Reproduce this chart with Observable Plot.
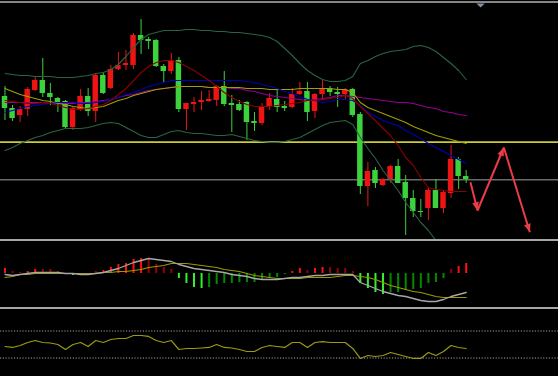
<!DOCTYPE html>
<html><head><meta charset="utf-8">
<script src="https://cdn.jsdelivr.net/npm/d3@7"></script>
<script src="https://cdn.jsdelivr.net/npm/@observablehq/plot@0.6"></script>
<style>
html,body{margin:0;padding:0;background:#000;}
#chart{position:relative;width:558px;height:376px;background:#000;overflow:hidden;}
.panel{position:absolute;left:0;}
.sep{position:absolute;left:0;width:558px;}
</style></head><body>
<div id="chart"></div>
<script>
// ---- candle data (price units, higher = higher price) ----
const open  = [144,132,125,131,150,160,147,142,139,113,131,144,129,165,152,171,175,175,205,201,200,174,169,180,131,136,138,139,140,154,137,136,138,119,117,134,141,134,133,146,149,129,146,152,148,146,151,126,54,70,55,61,74,58,42,29,32,50,32,47,81,64];
const high  = [154,135,134,153,163,182,157,143,140,133,151,152,167,168,175,188,190,207,221,203,201,176,187,183,137,143,149,150,155,169,145,140,139,128,137,147,151,139,152,158,158,147,160,154,153,152,152,128,78,73,62,75,81,65,50,41,53,61,50,95,83,70];
const low   = [120,119,118,124,149,143,135,128,112,110,129,124,118,146,151,170,170,171,186,191,173,158,166,128,110,128,130,138,134,134,108,129,100,109,115,130,128,129,132,145,119,122,141,144,133,140,123,46,34,52,54,57,57,5,23,23,20,32,27,42,51,57];
const close = [132,122,131,151,160,147,143,138,113,132,144,129,165,147,171,175,177,205,200,199,174,169,180,131,137,138,140,141,154,136,135,130,118,117,134,142,133,132,146,149,128,146,152,148,146,151,125,54,69,57,61,74,57,42,29,28,50,32,48,81,64,61];

// ---- main-chart indicators ----
const bbUpper = [167,166,165,165,164,164,164,163,163,163,164,165,167,168,171,176,184,193,201,206,208,210,210,210,211,211,210,210,209,209,208,208,207,206,205,203,199,192,185,177,170,165,161,159,159,160,164,177,180,184,187,189,190,191,194,195,193,189,183,177,170,161];
const bbLower = [90,93,97,100,103,105,108,110,112,112,112,113,115,117,118,117,113,109,105,103,103,106,109,110,108,107,107,106,105,105,106,104,102,100,99,98,98,99,101,103,107,111,115,118,119,120,116,103,92,82,70,60,50,38,28,18,10,0,-5,-10,-15,-18];
const maRed   = [140,139,138,137,137,138,137,135,133,131,131,132,134,136,140,146,152,160,168,174,178,180,180,178,174,170,165,160,154,148,143,139,136,134,134,134,135,136,137,138,140,140,141,142,143,145,142,134,127,120,112,105,95,83,75,63,53,51,50,49,49,49];
const maBlue  = [128,130,132,134,135,136,137,138,138,138,137,137,138,139,141,143,146,148,151,154,156,158,160,160,160,160,160,160,160,160,160,160,159,158,156,154,152,149,147,144,141,140,138,139,141,141,140,135,128,124,120,117,115,110,106,102,97,93,89,85,81,77];
const maOlive = [152,149,146,144,142,140,139,137,136,134,133,132,133,134,137,140,142,145,147,149,151,152,153,154,154,154,154,153,153,153,153,153,152,152,152,151,151,151,151,152,152,152,152,152,151,151,148,138,133,130,127,124,121,118,114,111,108,105,103,101,99,97];
const maPurple= [138,138,138,138,138,138,137,137,137,137,138,138,139,140,141,143,145,146,148,150,151,152,153,154,154,154,154,153,153,153,152,152,150,149,147,145,144,143,142,141,140,141,142,143,145,145,144,143,142,141,140,139,138,138,137,135,133,132,129,128,126,125];
const levelYellow = [98.3];
const levelGray = [60.8];
// forecast zig-zag pivots (bar index, price)
const zigBar   = [61.57, 62.5, 65.98, 69.42];
const zigPrice = [58.3, 30.0, 93.0, 8.3];
const shiftMarker = [{i: 62.9, v: 235}];

// ---- MACD panel ----
const macdHist   = [5,2,1,2,4,4,4,2,-1,-2,-1,-2,2,3,6,9,10,14,15,15,9,6,4,-5,-10,-14,-15,-14,-11,-10,-10,-9,-9,-9,-6,-5,-4,-1,2,5,3,5,6,6,5,5,2,-10,-15,-19,-21,-19,-19,-17,-16,-15,-10,-9,-5,4,7,10];
const macdLine   = [-1,-2,-1,0,1,1,1,1,0,0,-1,-1,0,1,3,5,8,11,13,15,14,13,12,9,7,5,4,3,2,1,-1,-2,-3,-5,-6,-6,-6,-5,-4,-4,-3,-2,-2,-1,-1,-1,-1,-9,-12,-15,-18,-20,-22,-23,-25,-27,-28,-28,-26,-23,-21,-19];
const signalLine = [-4,-3,-1,-1,0,0,0,0,0,0,0,0,0,1,1,2,2,3,4,6,7,8,10,10,10,9,8,7,6,4,3,2,0,-2,-3,-4,-5,-5,-5,-5,-4,-4,-4,-4,-3,-2,-2,-3,-4,-6,-9,-12,-14,-16,-18,-19,-21,-23,-24,-24,-24,-24];

// ---- oscillator panel ----
const rsi = [47.0,45.6,48.5,53.0,55.9,53.0,52.2,50.0,42.6,50.0,53.0,47.0,55.9,53.0,57.4,58.9,58.9,63.3,63.3,61.9,55.9,53.0,55.9,42.6,44.1,44.1,44.8,45.6,50.0,45.6,44.8,42.6,39.6,39.6,45.6,48.5,47.0,45.6,53.0,53.0,45.6,53.0,54.4,53.0,53.0,53.0,44.1,29.3,33.7,32.2,33.7,38.1,35.2,32.2,29.3,29.3,38.1,33.7,39.6,48.5,45.6,44.1];
const rsiLevels = [70, 30];

// ---- build ----
const GREEN = "#3cd23c", RED = "#ee1414", ARROW = "#ec3c48";
const XD = [-0.595, 73.21];
const bars = open.map((o, i) => ({i, o, h: high[i], l: low[i], c: close[i], col: close[i] > o ? RED : GREEN}));
const series = arr => arr.map((v, i) => ({i, v}));
const sx = Plot.scale({x: {domain: XD, range: [0, 558]}});
const sy = Plot.scale({y: {domain: [0, 240], range: [240, 0]}});
const segs = zigBar.slice(1).map((b, k) => {
  const dx = sx.apply(b) - sx.apply(zigBar[k]);
  const dy = sy.apply(zigPrice[k + 1]) - sy.apply(zigPrice[k]);
  return {x1: zigBar[k], y1: zigPrice[k], x2: b, y2: zigPrice[k + 1], angle: Math.atan2(dx, -dy) * 180 / Math.PI};
});
// arrowhead symbol: tip at origin, pointing up
const headSym = {draw(ctx, size){ const r = Math.sqrt(size / Math.PI); ctx.moveTo(0, 0); ctx.lineTo(-r*0.42, r*1.05); ctx.lineTo(r*0.42, r*1.05); ctx.closePath(); }};
const flatTri = {draw(ctx, size){ const r = Math.sqrt(size / Math.PI); ctx.moveTo(-r*1.4, -r*0.7); ctx.lineTo(r*1.4, -r*0.7); ctx.lineTo(0, r*0.7); ctx.closePath(); }};

const chart = document.getElementById("chart");
function place(node, top){ node.classList.add("panel"); node.style.top = top + "px"; chart.appendChild(node); }
function sep(top, h, color){ const d = document.createElement("div"); d.className = "sep"; d.style.top = top + "px"; d.style.height = h + "px"; d.style.background = color; chart.appendChild(d); }

const main = Plot.plot({
  width: 558, height: 240, margin: 0,
  style: {background: "#000", overflow: "hidden"},
  x: {domain: XD, axis: null},
  y: {domain: [0, 240], axis: null},
  color: {type: "identity"},
  marks: [
    Plot.ruleY(levelYellow, {stroke: "#cccc33", strokeWidth: 1.7}),
    Plot.ruleY(levelGray, {stroke: "#6a6a6a", strokeWidth: 1.6}),
    Plot.ruleX(bars, {x: "i", y1: "l", y2: "h", stroke: "col", strokeWidth: 1, clip: true}),
    Plot.rect(bars, {x1: d => d.i - 0.36, x2: d => d.i + 0.36, y1: "o", y2: "c", fill: "col", clip: true}),
    Plot.line(series(bbUpper), {x: "i", y: "v", stroke: "#2a6442", strokeWidth: 1.1, clip: true}),
    Plot.line(series(bbLower), {x: "i", y: "v", stroke: "#2a6442", strokeWidth: 1.1, clip: true}),
    Plot.line(series(maPurple), {x: "i", y: "v", stroke: "#950095", strokeWidth: 1.1}),
    Plot.line(series(maOlive), {x: "i", y: "v", stroke: "#a0a000", strokeWidth: 1.1}),
    Plot.line(series(maBlue), {x: "i", y: "v", stroke: "#0000b4", strokeWidth: 1.1}),
    Plot.line(series(maRed), {x: "i", y: "v", stroke: "#8c0000", strokeWidth: 1.1}),
    Plot.link(segs, {x1: "x1", y1: "y1", x2: "x2", y2: "y2", stroke: ARROW, strokeWidth: 2}),
    Plot.dot(segs, {x: "x2", y: "y2", rotate: "angle", symbol: headSym, r: 8, fill: ARROW, stroke: null}),
    Plot.dot(shiftMarker, {x: "i", y: "v", symbol: flatTri, r: 3, fill: "#7a92aa", stroke: null})
  ]
});
place(main, 0);

const macd = Plot.plot({
  width: 558, height: 66, margin: 0,
  style: {background: "#000", overflow: "hidden"},
  x: {domain: XD, axis: null},
  y: {domain: [-34, 32], axis: null},
  color: {type: "identity"},
  marks: [
    Plot.ruleX(series(macdHist), {x: "i", y1: 0, y2: "v", strokeWidth: 2,
      stroke: d => {
        const prev = d.i > 0 ? Math.abs(macdHist[d.i - 1]) : 0;
        const grow = Math.abs(d.v) > prev;
        return d.v >= 0 ? (grow ? "#ff1010" : "#9a0000") : (grow ? "#30f030" : "#008a00");
      }}),
    Plot.line(series(signalLine), {x: "i", y: "v", stroke: "#9a9a00", strokeWidth: 1.2}),
    Plot.line(series(macdLine), {x: "i", y: "v", stroke: "#a8a8a8", strokeWidth: 1.3})
  ]
});
place(macd, 241);

const osc = Plot.plot({
  width: 558, height: 68, margin: 0,
  style: {background: "#000", overflow: "hidden"},
  x: {domain: XD, axis: null},
  y: {domain: [0, 100], range: [69.75, 2.25], axis: null},
  marks: [
    Plot.ruleY(rsiLevels, {stroke: "#a0a0a0", strokeWidth: 1, strokeDasharray: "1.2,1.6"}),
    Plot.line(series(rsi), {x: "i", y: "v", stroke: "#9a9a14", strokeWidth: 1.2})
  ]
});
place(osc, 308);

sep(1, 2, "#858585");
sep(239, 2, "#a6a6a6");
sep(306.5, 2, "#a6a6a6");
</script>
</body></html>
